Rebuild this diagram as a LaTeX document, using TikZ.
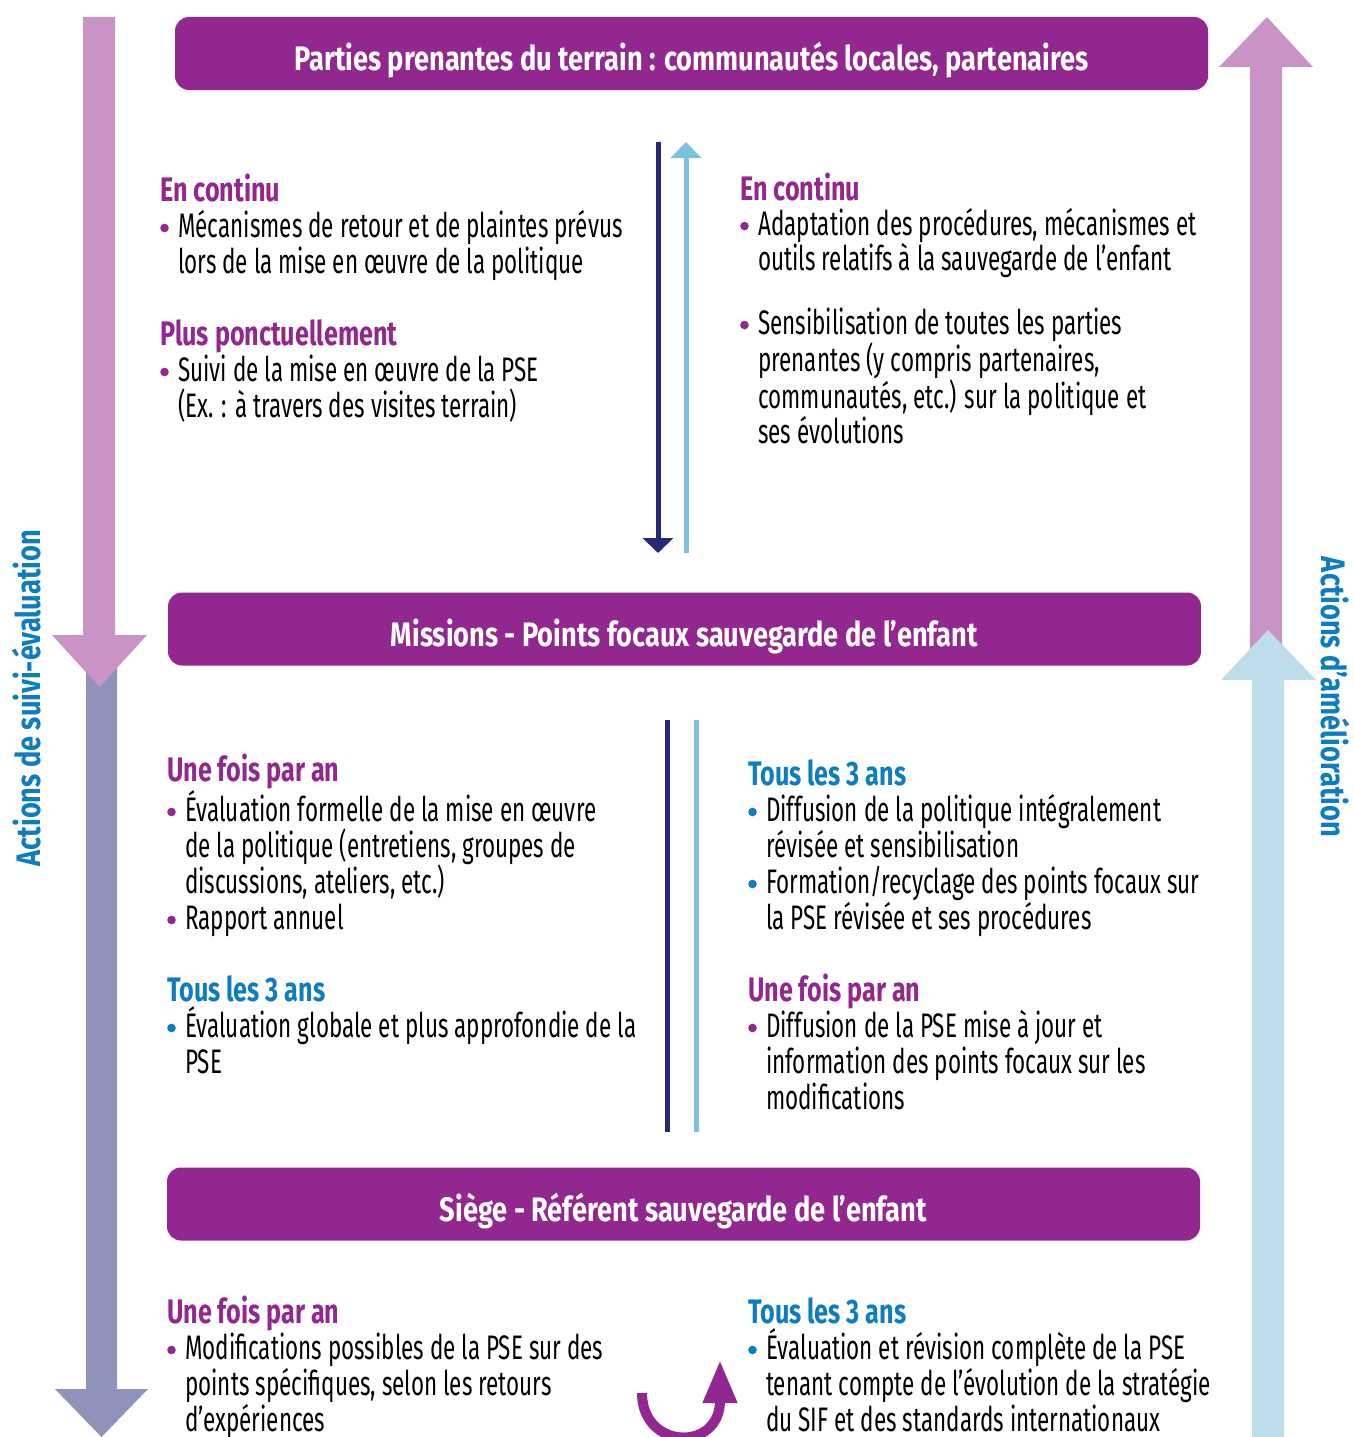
\documentclass[tikz,border=0pt]{standalone}
\usepackage{fontspec}
\setmainfont{Fira Sans}[FakeStretch=0.66]
\newfontfamily\headfont{Fira Sans}[FakeStretch=0.74]
\newfontfamily\bannerfont{Fira Sans}[FakeStretch=0.80]
\usepackage{tikz}
\usetikzlibrary{positioning}
\usetikzlibrary{arrows.meta}

\definecolor{plum}{HTML}{92278F}
\definecolor{sky}{HTML}{0D7CC1}
\definecolor{pinkarr}{HTML}{C993C6}
\definecolor{greyarr}{HTML}{8F92BA}
\definecolor{bluearr}{HTML}{BDDDEA}
\definecolor{navy}{HTML}{262A76}
\definecolor{lineblue}{HTML}{7BC0DC}

\newcommand{\hdp}[1]{{\headfont\bfseries\color{plum}#1}}
\newcommand{\hdb}[1]{{\headfont\bfseries\color{sky}#1}}
\newcommand{\dotb}[1]{\makebox[18pt][l]{\tikz[baseline=0pt]\fill[#1] (4.5pt,9pt) circle[radius=4.3pt];}}
\newcommand{\bp}{\dotb{plum}}
\newcommand{\bb}{\dotb{sky}}
\newcommand{\ind}{\hspace*{18pt}}

\begin{document}
\begin{tikzpicture}
  [
    x=1pt, y=-1pt,
    banner/.style={fill=plum, rounded corners=14pt, minimum width=1033pt,
      minimum height=73pt, inner sep=0pt, text=white,
      text height=34pt, text depth=0pt,
      font=\bannerfont\bfseries\fontsize{34}{36}\selectfont},
    block/.style={anchor=base west, align=left, inner sep=0pt,
      font=\fontsize{34}{36}\selectfont},
    side/.style={text=sky, inner sep=0pt,
      font=\bannerfont\bfseries\fontsize{34}{36}\selectfont},
    godown/.style={draw=navy, line width=5pt, -{Triangle[width=30pt,length=15pt]}},
    goup/.style={draw=lineblue, line width=5pt, -{Triangle[width=30pt,length=16pt]}},
    bar/.style={line width=5pt},
    turn/.style={draw=plum, line width=10pt, -{Triangle[width=32pt,length=43pt]}}
  ]
  \useasboundingbox (0,0) rectangle (1354,1437);

  % big side arrows
  \fill[greyarr] (86,650) -- (117,650) -- (117,1389) -- (148,1389)
    -- (101.5,1437) -- (55,1389) -- (86,1389) -- cycle;
  \fill[pinkarr] (83,17) -- (115,17) -- (115,635) -- (147,635)
    -- (99.5,687) -- (52,635) -- (83,635) -- cycle;
  \fill[pinkarr] (1267,17) -- (1313,67) -- (1282,67) -- (1282,660)
    -- (1250,660) -- (1250,67) -- (1219,67) -- cycle;
  \fill[bluearr] (1268,630) -- (1316,680) -- (1284,680) -- (1284,1437)
    -- (1252,1437) -- (1252,680) -- (1221,680) -- cycle;

  \node (lside) at (27,698) [side, rotate=90] {Actions de suivi-évaluation};
  \node (rside) at (1335,697) [side, rotate=-90] {Actions d’amélioration};

  % banners
  \node (bTop) at (691.5,53.5) [banner] {Parties prenantes du terrain : communautés locales, partenaires};
  \node (bMid) at (684.5,629)  [banner] {Missions - Points focaux sauvegarde de l’enfant};
  \node (bBot) at (683.5,1204) [banner] {Siège - Référent sauvegarde de l’enfant};

  % terrain (anchored on last baseline)
  \node (tl) at (160,417) [block] {\hdp{En continu}\\
    \bp Mécanismes de retour et de plaintes prévus\\
    \ind lors de la mise en œuvre de la politique\\[36pt]
    \hdp{Plus ponctuellement}\\
    \bp Suivi de la mise en œuvre de la PSE\\
    \ind (Ex. : à travers des visites terrain)};
  \node (tr) at (740,443) [block, font=\fontsize{34}{35}\selectfont] {\hdp{En continu}\\
    \bp Adaptation des procédures, mécanismes et\\
    \ind outils relatifs à la sauvegarde de l’enfant\\[29pt]
    \bp Sensibilisation de toutes les parties\\
    \ind prenantes (y compris partenaires,\\
    \ind communautés, etc.) sur la politique et\\
    \ind ses évolutions};

  \coordinate (t1) at (658,142);
  \coordinate (t2) at (658,553);
  \coordinate (t3) at (686,553);
  \coordinate (t4) at (686,142);
  \draw [godown] (t1) -- (t2);
  \draw [goup] (t3) -- (t4);

  % missions
  \node (ml) at (167,1073) [block] {\hdp{Une fois par an}\\
    \bp Évaluation formelle de la mise en œuvre\\
    \ind de la politique (entretiens, groupes de\\
    \ind discussions, ateliers, etc.)\\
    \bp Rapport annuel\\[36pt]
    \hdb{Tous les 3 ans}\\
    \bb Évaluation globale et plus approfondie de la\\
    \ind PSE};
  \node (mr) at (748,1109) [block] {\hdb{Tous les 3 ans}\\
    \bb Diffusion de la politique intégralement\\
    \ind révisée et sensibilisation\\
    \bb Formation/recyclage des points focaux sur\\
    \ind la PSE révisée et ses procédures\\[36pt]
    \hdp{Une fois par an}\\
    \bp Diffusion de la PSE mise à jour et\\
    \ind information des points focaux sur les\\
    \ind modifications};

  \coordinate (m1) at (667,720);
  \coordinate (m2) at (667,1132);
  \coordinate (m3) at (696,720);
  \coordinate (m4) at (696,1132);
  \draw [bar, navy] (m1) -- (m2);
  \draw [bar, lineblue] (m3) -- (m4);

  % siege
  \node (bl) at (167,1431) [block] {\hdp{Une fois par an}\\
    \bp Modifications possibles de la PSE sur des\\
    \ind points spécifiques, selon les retours\\
    \ind d’expériences};
  \node (br) at (748,1431) [block] {\hdb{Tous les 3 ans}\\
    \bb Évaluation et révision complète de la PSE\\
    \ind tenant compte de l’évolution de la stratégie\\
    \ind du SIF et des standards internationaux};

  \coordinate (c1) at (642,1393);
  \coordinate (c2) at (720,1360);
  \draw [turn] (c1) .. controls (642,1450) and (720,1452) .. (c2);
\end{tikzpicture}
\end{document}
